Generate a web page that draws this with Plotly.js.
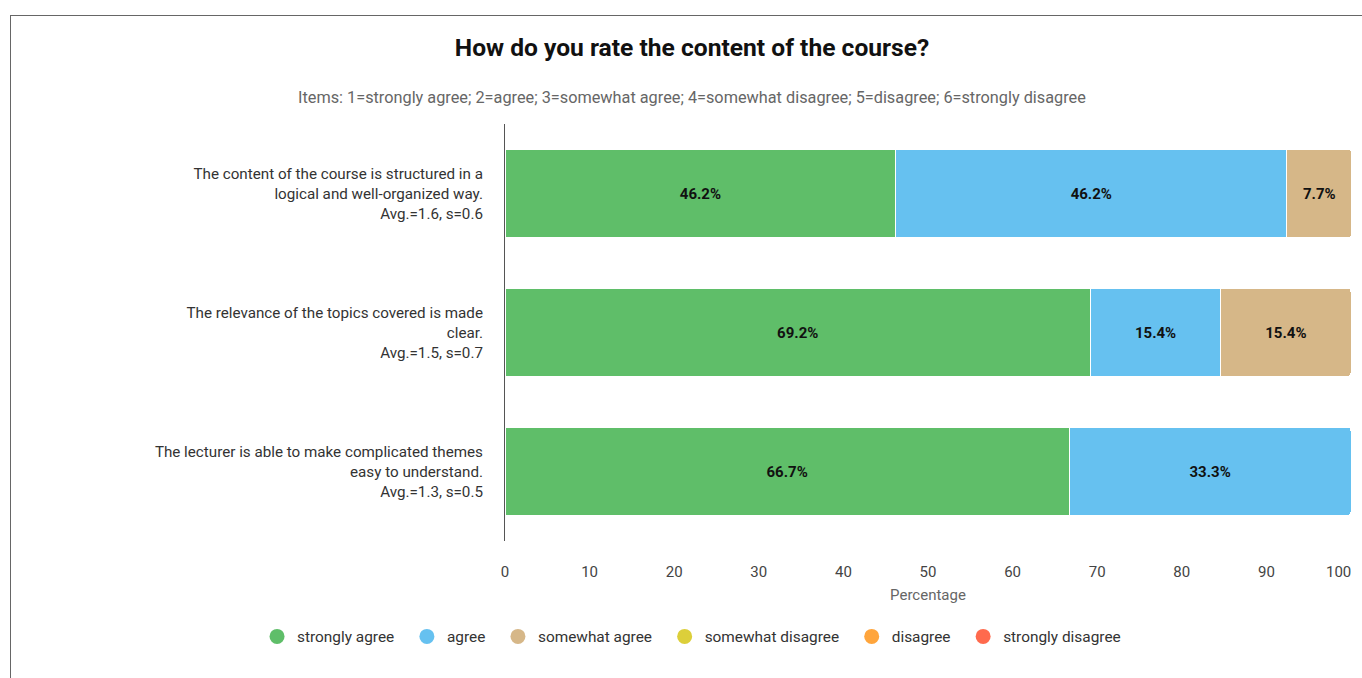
<!DOCTYPE html>
<html>
<head>
<meta charset="utf-8">
<script src="https://cdn.plot.ly/plotly-3.0.1.min.js"></script>
<style>
  html, body { margin: 0; padding: 0; overflow: hidden; background: #fff; }
  #frame { position: absolute; left: 10px; top: 15px; width: 1400px; height: 700px; border: 1px solid #666; box-sizing: border-box; }
  #chart { position: absolute; left: 0px; top: 0px; width: 1362px; height: 663px; }
</style>
</head>
<body>
<div id="frame"><div id="chart"></div></div>
<script>
const categories = [
  "The content of the course is structured in a<br>logical and well-organized way.<br>Avg.=1.6, s=0.6",
  "The relevance of the topics covered is made<br>clear.<br>Avg.=1.5, s=0.7",
  "The lecturer is able to make complicated themes<br>easy to understand.<br>Avg.=1.3, s=0.5"
];
const seriesNames = ["strongly agree", "agree", "somewhat agree", "somewhat disagree", "disagree", "strongly disagree"];
const stronglyAgree = [46.2, 69.2, 66.7];
const agree = [46.2, 15.4, 33.3];
const somewhatAgree = [7.7, 15.4, 0];
const somewhatDisagree = [0, 0, 0];
const disagree = [0, 0, 0];
const stronglyDisagree = [0, 0, 0];
const seriesValues = [stronglyAgree, agree, somewhatAgree, somewhatDisagree, disagree, stronglyDisagree];
const xTicks = [0, 10, 20, 30, 40, 50, 60, 70, 80, 90];
const xMax = 100;
const colors = ["#5fbe69", "#66c1f0", "#d6b788", "#dccf3a", "#ffa53c", "#ff6a4d"];

const traces = [];
seriesValues.forEach((vals, i) => {
  traces.push({
    type: "bar",
    orientation: "h",
    name: seriesNames[i],
    y: categories,
    x: vals,
    marker: { color: colors[i], line: { color: "#ffffff", width: 1 } },
    text: vals.map(v => v > 0 ? v.toFixed(1) + "%" : ""),
    textposition: "inside",
    insidetextanchor: "middle",
    textangle: 0,
    constraintext: "none",
    textfont: { family: "Roboto", size: 15, color: "#111", weight: "bold" },
    hoverinfo: "skip",
    showlegend: false
  });
});
seriesNames.forEach((n, i) => {
  traces.push({
    type: "scatter",
    mode: "markers",
    name: n + "&nbsp;&nbsp;",
    x: [null],
    y: [null],
    marker: { color: colors[i], size: 15, symbol: "circle" },
    showlegend: true,
    hoverinfo: "skip"
  });
});

const layout = {
  width: 1362,
  height: 663,
  margin: { l: 494, r: 22, t: 108, b: 138, autoexpand: false },
  paper_bgcolor: "rgba(0,0,0,0)",
  plot_bgcolor: "rgba(0,0,0,0)",
  font: { family: "Roboto", size: 14, color: "#333" },
  barmode: "stack",
  bargap: 0.367,
  barcornerradius: 3,
  title: {
    text: "<b>How do you rate the content of the course?</b>",
    font: { family: "Roboto", size: 24.6, color: "#111" },
    x: 0.5, xanchor: "center", xref: "container",
    y: 0.952, yanchor: "middle", yref: "container"
  },
  xaxis: {
    range: [0, xMax],
    tickvals: xTicks,
    tickangle: 0,
    showgrid: false,
    zeroline: false,
    showline: false,
    ticks: "",
    ticklabelstandoff: 20,
    automargin: false,
    tickfont: { family: "Roboto", size: 15, color: "#444" },
    title: { text: "Percentage", font: { family: "Roboto", size: 15, color: "#666" }, standoff: 9 }
  },
  yaxis: {
    autorange: "reversed",
    showgrid: false,
    zeroline: false,
    showline: true,
    linecolor: "#555",
    linewidth: 1,
    ticks: "",
    ticklabelstandoff: 18,
    automargin: false,
    tickfont: { family: "Roboto", size: 15.2, color: "#333" }
  },
  legend: {
    orientation: "h",
    traceorder: "normal",
    xref: "paper",
    x: -0.2931, xanchor: "left",
    y: -0.23, yanchor: "middle",
    itemwidth: 30,
    font: { family: "Roboto", size: 15.4, color: "#333" },
    itemclick: false
  },
  annotations: [
    {
      text: "Items: 1=strongly agree; 2=agree; 3=somewhat agree; 4=somewhat disagree; 5=disagree; 6=strongly disagree",
      xref: "paper", x: 0.221, xanchor: "center",
      yref: "paper", y: 1.0624, yanchor: "middle",
      showarrow: false,
      font: { family: "Roboto", size: 16.3, color: "#666" }
    },
    {
      text: String(xMax),
      xref: "x", x: xMax, xanchor: "right",
      yref: "paper", y: -0.0745, yanchor: "middle",
      showarrow: false,
      xshift: 2,
      font: { family: "Roboto", size: 15, color: "#444" }
    }
  ]
};

Plotly.newPlot("chart", traces, layout, { displayModeBar: false, staticPlot: true });
</script>
</body>
</html>
